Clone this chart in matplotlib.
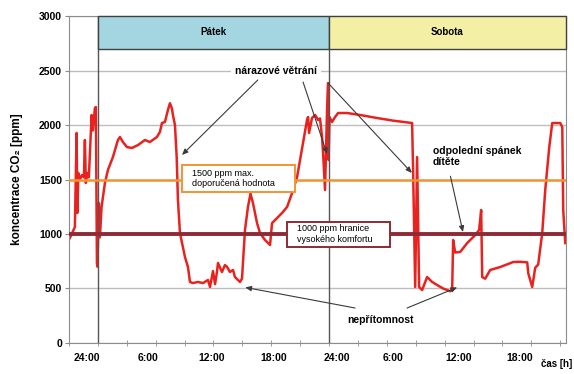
import matplotlib.pyplot as plt
from matplotlib.patches import Rectangle
from matplotlib.ticker import MultipleLocator

plt.rcParams['font.family'] = ['Liberation Sans', 'DejaVu Sans']

# hours from Friday 0:00, CO2 in ppm
hours = [-2.91, -2.39, -2.21, -2.13, -2.03, -1.87, -1.66, -1.45, -1.35, -1.25,
         -1.09, -0.94, -0.65, -0.52, -0.31, -0.21, -0.10, -0.05, 0.10, 0.21,
         0.38, 0.73, 1.04, 1.56, 2.08, 2.29, 2.60, 3.01, 3.53, 4.16,
         4.88, 5.40, 6.13, 6.44, 6.65, 6.96, 7.27, 7.48, 7.69, 7.79,
         8.00, 8.18, 8.31, 8.52, 8.83, 9.04, 9.35, 9.56, 9.87, 10.39,
         10.91, 11.43, 11.64, 11.95, 12.16, 12.36, 12.47, 12.88, 13.19, 13.40,
         13.71, 14.03, 14.23, 14.75, 14.96, 15.27, 15.58, 15.84, 16.10, 16.52,
         16.83, 17.35, 17.87, 18.08, 18.39, 18.70, 19.12, 19.64, 20.16, 20.68,
         20.99, 21.30, 21.71, 21.82, 21.92, 22.23, 22.55, 22.86, 23.06, 23.27,
         23.38, 23.58, 23.69, 23.79, 23.90, 23.95, 24.05, 24.31, 24.62, 24.94,
         25.87, 27.22, 28.99, 30.65, 32.62, 32.73, 32.94, 33.14, 33.35, 33.66,
         34.18, 34.70, 35.22, 35.84, 36.57, 36.78, 36.88, 37.09, 37.61, 38.34,
         39.17, 39.58, 39.79, 39.90, 40.21, 40.73, 41.77, 43.12, 43.84, 44.57,
         44.68, 45.09, 45.40, 45.71, 46.13, 46.44, 46.86, 47.17, 48.00, 48.21,
         48.31, 48.52]
co2 = [963, 1064, 1927, 1193, 1560, 1500, 1540, 1520, 1862, 1468,
       1560, 1520, 2092, 1950, 2156, 2165, 734, 700, 1284, 970,
       1248, 1468, 1587, 1706, 1862, 1890, 1844, 1798, 1789, 1816,
       1862, 1844, 1890, 1936, 2018, 2028, 2137, 2200, 2150, 2092,
       2000, 1706, 1312, 1009, 880, 789, 697, 560, 550, 560,
       550, 578, 514, 660, 540, 650, 734, 651, 715, 700,
       651, 670, 605, 560, 590, 1037, 1248, 1370, 1284, 1101,
       1009, 945, 899, 1100, 1128, 1156, 1193, 1248, 1376, 1523,
       1679, 1835, 2046, 2073, 1927, 2064, 2092, 2046, 2060, 1890,
       1743, 1404, 1800, 2137, 2385, 1679, 2073, 2028, 2073, 2110,
       2110, 2092, 2064, 2040, 2018, 1560, 514, 1706, 514, 486,
       605, 560, 532, 500, 475, 486, 945, 830, 835, 917,
       990, 1037, 1220, 605, 590, 670, 697, 743, 745, 740,
       640, 514, 690, 720, 1009, 1400, 1798, 2018, 2018, 1982,
       1220, 917]

xtick_pos = [-1.1, 5.2, 11.8, 18.2, 24.8, 30.6, 37.4, 43.8]
xtick_labels = ['24:00', '6:00', '12:00', '18:00', '24:00', '6:00', '12:00', '18:00']
days = ['Pátek', 'Sobota']
day_start = [0, 24]
day_colors = ['#A3D6E0', '#F3F0A6']
limit_max = 1500
limit_comfort = 1000

x0, x1 = -3.0, 48.6
fig = plt.figure(figsize=(5.74, 3.74), dpi=100)
ax = fig.add_axes([0.1202, 0.0829, 0.8659, 0.8743])
ax.set_xlim(x0, x1)
ax.set_ylim(0, 3000)

gray = '#8C8C8C'
for s in ax.spines.values():
    s.set_color(gray)
ax.yaxis.set_major_locator(MultipleLocator(500))
ax.grid(axis='y', color='#BDBDBD', lw=1, zorder=0)
ax.tick_params(axis='y', length=3, color=gray, labelsize=7.5, pad=2)
for t in ax.get_yticklabels():
    t.set_fontweight('bold')

ax.set_xticks(xtick_pos)
ax.set_xticklabels(xtick_labels, fontsize=7.5, fontweight='bold')
ax.xaxis.set_minor_locator(MultipleLocator(3))
ax.tick_params(axis='x', which='major', length=0, pad=7)
ax.tick_params(axis='x', which='minor', length=4, direction='inout', color=gray)

ax.set_ylabel('koncentrace CO₂ [ppm]', fontsize=8.5, fontweight='bold')
ax.yaxis.set_label_coords(-0.093, 0.5)
fig.text(0.997, 1 - 364 / 374, 'čas [h]', ha='right', va='center',
         fontsize=7, fontweight='bold')

# day bands
day_end = day_start[1:] + [x1]
for name, a, b, c in zip(days, day_start, day_end, day_colors):
    ax.add_patch(Rectangle((a, 2700), b - a, 300, facecolor=c, edgecolor='#404040',
                           lw=1, zorder=4, clip_on=False))
    ax.text((a + b) / 2, 2850, name, ha='center', va='center', fontsize=7,
            fontweight='bold', zorder=5)
    ax.axvline(a, color='#555555', lw=1, zorder=3)

ax.plot(hours, co2, color='#E8231F', lw=1.8, zorder=2)
ax.axhline(limit_max, color='#F39433', lw=1.8, zorder=3)
ax.axhline(limit_comfort, color='#8E2A36', lw=2.8, zorder=3)

# limit label boxes
ax.add_patch(Rectangle((8.73, 1385), 11.74, 248, fc='white', ec='#F39433',
                       lw=1.4, zorder=5))
ax.text(9.8, 1505, '1500 ppm max.\ndoporučená hodnota', fontsize=6.5, ha='left',
        va='center', zorder=6, linespacing=1.15)
ax.add_patch(Rectangle((19.64, 881), 10.7, 229, fc='white', ec='#8E2A36',
                       lw=1.4, zorder=5))
ax.text(20.7, 1000, '1000 ppm hranice\nvysokého komfortu', fontsize=6.5, ha='left',
        va='center', zorder=6, linespacing=1.15)

arrow = dict(arrowstyle='-|>,head_length=0.35,head_width=0.15', color='#3A3A3A',
             lw=0.8, shrinkA=0, shrinkB=0)
ax.text(18.5, 2495, 'nárazové větrání', fontsize=7.5, fontweight='bold',
        ha='center', va='center', zorder=6,
        bbox=dict(boxstyle='square,pad=0.35', fc='white', ec='none'))
for start, end in [((16.6, 2413), (8.73, 1725)),
                   ((21.3, 2394), (23.79, 1734)),
                   ((23.9, 2385), (32.6, 1560))]:
    ax.annotate('', xy=end, xytext=start, arrowprops=arrow, zorder=6)

ax.text(34.8, 1711, 'odpolední spánek\ndítěte', fontsize=7.5, fontweight='bold',
        ha='left', va='center', zorder=6)
ax.annotate('', xy=(37.9, 1018), xytext=(36.6, 1530), arrowprops=arrow, zorder=6)

ax.text(29.3, 211, 'nepřítomnost', fontsize=7.5, fontweight='bold',
        ha='center', va='center', zorder=6)
ax.annotate('', xy=(15.3, 510), xytext=(26.7, 321), arrowprops=arrow, zorder=6)
ax.annotate('', xy=(37.3, 510), xytext=(32.1, 321), arrowprops=arrow, zorder=6)

fig.savefig('out.png', dpi=100)
